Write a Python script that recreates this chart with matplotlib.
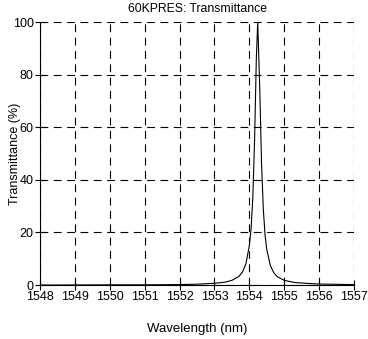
"""Transmittance of the 60KPRES filter, redrawn from a scanned plot."""

import matplotlib
matplotlib.use("Agg")
import matplotlib.pyplot as plt

# Values (nm, %).
wavelength = [1548.0, 1549.0, 1550.0, 1551.0, 1552.0, 1552.5, 1553.0, 1553.3,
              1553.5, 1553.7, 1553.8, 1553.9, 1554.0, 1554.05, 1554.1, 1554.15,
              1554.2, 1554.24, 1554.3, 1554.35, 1554.4, 1554.45, 1554.5, 1554.6,
              1554.7, 1554.8, 1555.0, 1555.3, 1555.6, 1556.0, 1556.5, 1557.0]
transmittance = [0.0, 0.05, 0.1, 0.1, 0.2, 0.35, 0.7, 1.1,
                 1.8, 3.3, 4.9, 8.0, 15.0, 21.5, 33.5, 55.0,
                 86.0, 100.0, 74.0, 46.0, 29.0, 19.0, 13.5, 7.5,
                 4.7, 3.2, 1.8, 1.0, 0.7, 0.4, 0.3, 0.2]

x_ticks = [1548, 1549, 1550, 1551, 1552, 1553, 1554, 1555, 1556, 1557]
x_ticklabels = ["1548", "1549", "1550", "1551", "1552", "1553", "1554",
                "1555", "1556", "1557"]
y_ticks = [0, 20, 40, 60, 80, 100]

plt.rcParams.update({
    "font.family": ["Liberation Sans", "DejaVu Sans"],
    "font.size": 9,
})

fig = plt.figure(figsize=(3.68, 3.39), dpi=100)
ax = fig.add_axes([0.1087, 0.159, 0.8533, 0.776])

ax.plot(wavelength, transmittance, "-", color="black", linewidth=0.8, zorder=3)

ax.set_xlim(1548, 1557)
ax.set_ylim(0, 100)
ax.set_xticks(x_ticks)
ax.set_xticklabels(x_ticklabels)
ax.set_yticks(y_ticks)

# dashed grid doubles as the top and right frame
ax.grid(True, color="black", linestyle=(0, (7, 5)), linewidth=0.8)
ax.spines["top"].set_visible(False)
ax.spines["right"].set_visible(False)
ax.spines["left"].set_linewidth(0.8)
ax.spines["bottom"].set_linewidth(0.8)
ax.tick_params(direction="inout", length=7, width=0.8, pad=1, colors="black",
               labelsize=9)

ax.set_title("60KPRES: Transmittance", fontsize=8.8, pad=7)
ax.set_xlabel("Wavelength (nm)", fontsize=9.5, labelpad=14)
ax.set_ylabel("Transmittance (%)", fontsize=9)
ax.yaxis.set_label_coords(-0.061, 0.5)

fig.savefig("out.png", dpi=100)
